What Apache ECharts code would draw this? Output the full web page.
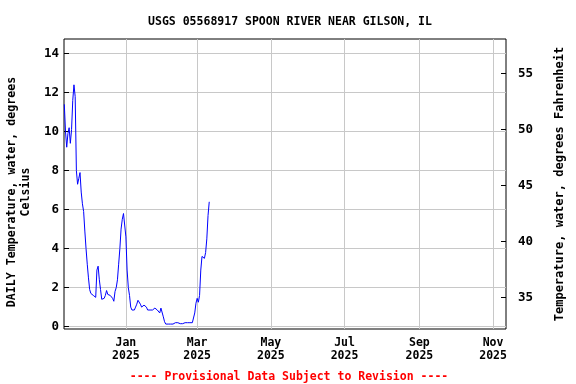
<!DOCTYPE html>
<html>
<head>
<meta charset="utf-8">
<script src="https://cdn.jsdelivr.net/npm/echarts@6/dist/echarts.min.js"></script>
<style>
html,body{margin:0;padding:0;background:#fff;}
#chart{width:576px;height:384px;}
</style>
</head>
<body>
<div id="chart"></div>
<script>
// ---- data ----
const startDate = '2024-11-11';
const tempC = [
  11.4, 10.0, 9.2, 9.9, 10.2, 9.4, 10.1, 11.6, 12.4, 11.8,
  8.0, 7.3, 7.6, 7.9, 6.9, 6.3, 5.9, 4.9, 4.0, 3.2,
  2.5, 1.9, 1.7, 1.65, 1.6, 1.6, 1.5, 2.9, 3.1, 2.4,
  1.9, 1.4, 1.3, 1.45, 1.6, 1.85, 1.65, 1.65, 1.6, 1.55,
  1.45, 1.3, 1.8, 2.0, 2.4, 3.2, 4.0, 5.0, 5.5, 5.8,
  5.85, 4.6, 2.9, 2.0, 1.6, 1.0, 0.85, 0.85, 0.85, 1.0,
  1.15, 1.35, 1.25, 1.15, 1.0, 1.05, 1.1, 1.15, 1.0, 0.85,
  0.85, 0.85, 0.85, 0.85, 0.9, 0.95, 0.85, 0.85, 0.8, 0.7,
  0.95, 0.85, 0.5, 0.25, 0.13, 0.13, 0.13, 0.13, 0.13, 0.13,
  0.13, 0.2, 0.2, 0.13, 0.2, 0.13, 0.15, 0.2, 0.15, 0.2,
  0.2, 0.2, 0.2, 0.15, 0.2, 0.2, 0.2, 0.2, 0.7, 1.2,
  1.45, 1.25, 1.6, 2.9, 3.6, 3.5, 3.5, 3.8, 4.5, 5.7,
  6.4
];
const xTickDates = ['2025-01-01','2025-03-01','2025-05-01','2025-07-01','2025-09-01','2025-11-01'];
const leftTicks = [0, 2, 4, 6, 8, 10, 12, 14];
const rightTicks = [35, 40, 45, 50, 55];
const monthNames = ['Jan','Feb','Mar','Apr','May','Jun','Jul','Aug','Sep','Oct','Nov','Dec'];

const DAY = 86400000;
const t0 = Date.parse(startDate + 'T00:00:00Z');
const seriesData = tempC.map((v, i) => [t0 + i * DAY, v]);
const xTickVals = xTickDates.map(d => Date.parse(d + 'T00:00:00Z'));

const FONT = '"DejaVu Sans Mono", monospace';

const chart = echarts.init(document.getElementById('chart'), null, {renderer: 'canvas'});
chart.setOption({
  backgroundColor: '#ffffff',
  animation: false,
  title: [
    {
      text: 'USGS 05568917 SPOON RIVER NEAR GILSON, IL',
      left: 285, top: 11, textAlign: 'center',
      textStyle: {fontFamily: FONT, fontWeight: 'bold', fontSize: 11.5, color: '#000'}
    },
    {
      text: '---- Provisional Data Subject to Revision ----',
      left: 284, top: 366, textAlign: 'center',
      textStyle: {fontFamily: FONT, fontWeight: 'bold', fontSize: 11.5, color: '#ff0000'}
    }
  ],
  grid: {
    left: 64, top: 39, width: 442, height: 290,
    show: true, borderColor: '#000', borderWidth: 1, backgroundColor: 'transparent',
    containLabel: false, outerBoundsMode: 'none'
  },
  xAxis: {
    type: 'value',
    min: t0 - 0.25 * DAY,
    max: t0 + 365.7 * DAY,
    axisLine: {show: false},
    axisTick: {show: false, customValues: xTickVals},
    splitLine: {show: true, lineStyle: {color: '#c8c8c8', width: 1}},
    axisLabel: {
      customValues: xTickVals,
      fontFamily: FONT, fontWeight: 'bold', fontSize: 11.5, color: '#000',
      margin: 8, lineHeight: 13,
      formatter: function (val) {
        const d = new Date(val);
        return monthNames[d.getUTCMonth()] + '\n' + d.getUTCFullYear();
      }
    }
  },
  yAxis: [
    {
      type: 'value',
      position: 'left',
      min: -0.123, max: 14.75,
      axisLine: {show: false},
      axisTick: {show: true, inside: true, length: 5, customValues: leftTicks, lineStyle: {color: '#000'}},
      splitLine: {show: true, lineStyle: {color: '#c8c8c8', width: 1}},
      axisLabel: {
        customValues: leftTicks,
        fontFamily: FONT, fontWeight: 'bold', fontSize: 12.5, color: '#000', margin: 5
      },
      name: 'DAILY Temperature, water, degrees\nCelsius',
      nameLocation: 'middle', nameRotate: 90, nameGap: 30,
      nameTextStyle: {fontFamily: FONT, fontWeight: 'bold', fontSize: 11.6, color: '#000', lineHeight: 14, align: 'center', padding: [0, 16, 0, 0]}
    },
    {
      type: 'value',
      position: 'right',
      min: 32.19, max: 58.08,
      axisLine: {show: false},
      axisTick: {show: true, inside: true, length: 5, customValues: rightTicks, lineStyle: {color: '#000'}},
      splitLine: {show: false},
      axisLabel: {
        customValues: rightTicks,
        fontFamily: FONT, fontWeight: 'bold', fontSize: 12.5, color: '#000', margin: 12
      },
      name: 'Temperature, water, degrees Fahrenheit',
      nameLocation: 'middle', nameRotate: 90, nameGap: 47,
      nameTextStyle: {fontFamily: FONT, fontWeight: 'bold', fontSize: 12, color: '#000', lineHeight: 14}
    }
  ],
  series: [
    {
      type: 'line',
      yAxisIndex: 0,
      data: seriesData,
      showSymbol: false,
      symbol: 'none',
      lineStyle: {color: '#0000ff', width: 1},
      itemStyle: {color: '#0000ff'}
    }
  ]
});
</script>
</body>
</html>
